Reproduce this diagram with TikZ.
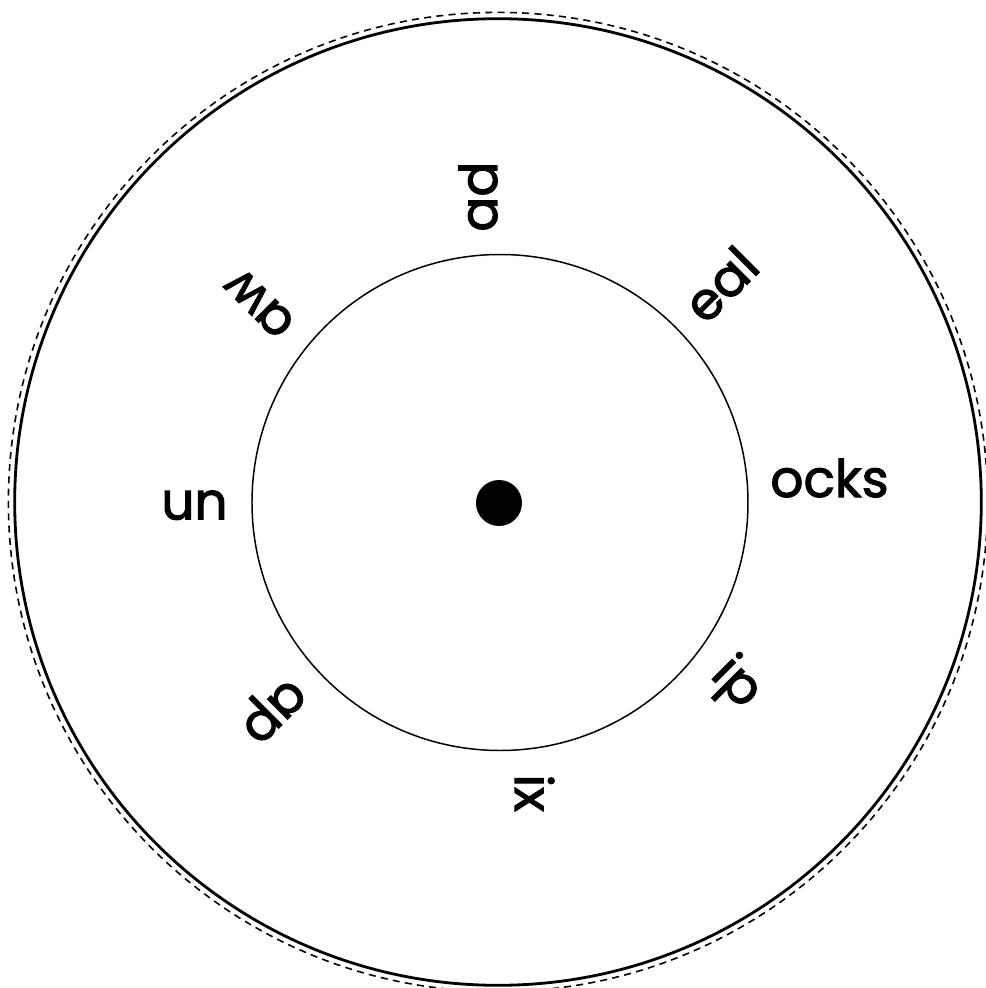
\documentclass[tikz,border=0pt]{standalone}
\usepackage{fontspec}
\setmainfont{Poppins}[FakeBold=2]
\usepackage{tikz}
\tikzset{
  rim/.style={draw=black, line width=1.6pt},
  cutline/.style={draw=black, line width=0.9pt, dash pattern=on 4pt off 3pt},
  ring/.style={draw=black, line width=0.85pt},
  hub/.style={fill=black},
  word/.style={anchor=base west, inner sep=0pt, font=\fontsize{29.5}{30}\selectfont},
}
\begin{document}
\begin{tikzpicture}[x=0.02cm, y=0.02cm]
  \useasboundingbox (-499,-485) rectangle (487,503);
  % outer disc with cutting line
  \coordinate (rimc) at (-1,1);
  \draw[cutline] (rimc) circle (489.6);
  \draw[rim] (rimc) circle (483.3);
  % inner window and pin
  \coordinate (c) at (0,0);
  \draw[ring] (1,0.5) circle (248);
  \fill[hub] (c) circle (23);
  % word endings round the wheel
  \foreach \ang/\off/\txt in {0/6/ocks, 45/-21/eal, 90/2/ad, 135/14/aw,
      180/-12/un, 225/-25/ap, 270/16/ix, 315/26/ip}
    \node[word, rotate=\ang] (w\ang) at ([rotate=\ang]271,\off) {\txt};
\end{tikzpicture}
\end{document}
